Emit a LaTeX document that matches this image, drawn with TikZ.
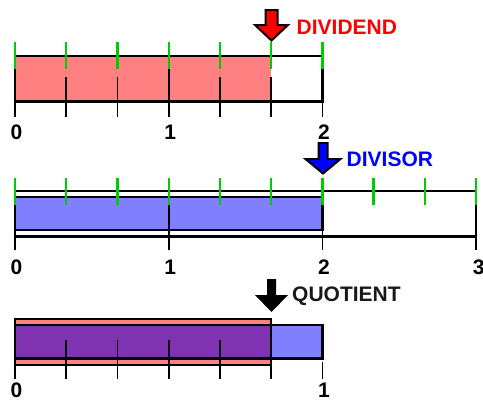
\documentclass[tikz,border=0pt]{standalone}
\usepackage{fontspec}
\setmainfont{Liberation Sans}
\definecolor{tickgreen}{RGB}{0,204,0}
\definecolor{redfill}{RGB}{255,128,128}
\definecolor{bluefill}{RGB}{128,128,255}
\definecolor{purplefill}{RGB}{128,51,176}
\definecolor{txtred}{RGB}{255,0,0}
\definecolor{txtblue}{RGB}{0,0,255}
\begin{document}
\begin{tikzpicture}[x=1pt,y=-1pt,
  lbl/.style={font=\fontsize{21}{21}\selectfont\bfseries, inner sep=0pt, anchor=base},
  tag/.style={font=\fontsize{21}{21}\selectfont\bfseries, inner sep=0pt, anchor=base west},
  barline/.style={draw=black, line width=2.4pt},
  gtick/.style={draw=tickgreen, line width=2.4pt},
  btick/.style={draw=black, line width=1.8pt},
  arrowout/.style={draw=black, line width=2pt, line join=miter},
]
\useasboundingbox (0,0) rectangle (483,400);
\pgfmathsetmacro{\u}{153.7}
% ---------------- top bar (dividend) ----------------
\fill[redfill] (15,56) rectangle ({15+\u*5/3},101.5);
\foreach \k in {1,2,4,5} {\draw[btick] ({15+\u*\k/3},77) -- ({15+\u*\k/3},117);}
\foreach \k in {0,3,6} {\draw[btick] ({15+\u*\k/3},69) -- ({15+\u*\k/3},117);}
\draw[barline] (15,56) rectangle ({15+\u*2},101.5);
\foreach \k in {0,...,6} {\draw[gtick] ({15+\u*\k/3},42) -- ({15+\u*\k/3},69);}
\node[lbl] (t0) at (16.5,139.5) {0};
\node[lbl] (t1) at ({16.5+\u},139.5) {1};
\node[lbl] (t2) at ({16.5+2*\u},139.5) {2};
\draw[arrowout, fill=red] (265.5,10) -- (277.5,10) -- (277.5,25) -- (288,25) -- (271.5,40.5) -- (255,25) -- (265.5,25) -- cycle;
\node[tag, text=txtred] (dividend) at (296.5,34.5) {DIVIDEND};
% ---------------- middle bar (divisor) ----------------
\draw[barline] (15,191) rectangle ({15+3*\u},236.5);
\fill[bluefill] (15,197) rectangle ({15+2*\u},230);
\draw[barline] (15,197) rectangle ({15+2*\u},230);
\foreach \k in {0,...,3} {\draw[btick] ({15+\u*\k},205) -- ({15+\u*\k},250);}
\foreach \k in {0,...,9} {\draw[gtick] ({15+\u*\k/3},178) -- ({15+\u*\k/3},205);}
\node[lbl] (m0) at (16.5,274.5) {0};
\node[lbl] (m1) at ({16.5+\u},274.5) {1};
\node[lbl] (m2) at ({16.5+2*\u},274.5) {2};
\node[lbl] (m3) at ({17.5+3*\u},274.5) {3};
\draw[arrowout, fill=blue] (318.5,143) -- (327.5,143) -- (327.5,159) -- (340.5,159) -- (323,173.5) -- (305.5,159) -- (318.5,159) -- cycle;
\node[tag, text=txtblue] (divisor) at (346.5,166.5) {DIVISOR};
% ---------------- bottom bar (quotient) ----------------
\pgfmathsetmacro{\w}{307.4}
\fill[redfill] (15,319) rectangle ({15+\w*5/6},365);
\fill[bluefill] (15,325) rectangle ({15+\w},358.5);
\fill[purplefill] (15,325) rectangle ({15+\w*5/6},358.5);
\foreach \k in {1,...,4} {\draw[btick] ({15+\w*\k/6},340) -- ({15+\w*\k/6},379);}
\foreach \k in {0,5,6} {\draw[btick] ({15+\w*\k/6},362) -- ({15+\w*\k/6},379);}
\draw[barline] (15,325) rectangle ({15+\w},358.5);
\draw[barline] (15,319) rectangle ({15+\w*5/6},365);
\node[lbl] (b0) at (16.5,397) {0};
\node[lbl] (b1) at ({16.5+\w},397) {1};
\fill[black] (267,279) -- (276,279) -- (276,295) -- (288,295) -- (271.5,312) -- (255,295) -- (267,295) -- cycle;
\node[tag, text=black!90] (quotient) at (292,301.5) {QUOTIENT};
\end{tikzpicture}
\end{document}
